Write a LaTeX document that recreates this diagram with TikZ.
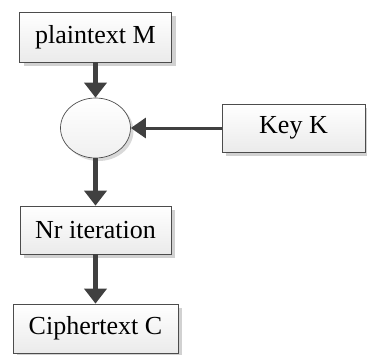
\documentclass[tikz,border=0pt]{standalone}
\usepackage{fontspec}
\setmainfont{Liberation Serif}
\usetikzlibrary{arrows.meta, shapes.geometric, shadows}

\tikzset{
  kasten/.style={draw=black!70, line width=0.7pt, inner sep=0pt,
    top color=white, bottom color=black!8,
    drop shadow={shadow xshift=4pt, shadow yshift=-4pt, fill=black!18, opacity=1},
    font=\fontsize{26}{26}\selectfont},
  kreis/.style={ellipse, draw=black!70, line width=0.7pt, inner sep=0pt,
    minimum width=70pt, minimum height=60pt,
    top color=white, bottom color=black!6,
    drop shadow={shadow xshift=3pt, shadow yshift=-3pt, fill=black!15, opacity=1}},
  pfeil/.style={-{Triangle[length=15pt, width=22pt]}, line width=5pt, draw=black!75},
  pfeilduenn/.style={-{Triangle[length=15pt, width=20pt]}, line width=3pt, draw=black!75}
}

\begin{document}
\begin{tikzpicture}[x=1pt, y=-1pt]
    \useasboundingbox (0,0) rectangle (367,354);

    % Kästen und Kreis
    \node[kasten, minimum width=152pt, minimum height=50pt] (plain) at (95.5,37) {plaintext M};
    \node[kreis] (xor) at (95.5,128) {};
    \node[kasten, minimum width=143pt, minimum height=48pt] (key) at (293.5,128) {Key K};
    \node[kasten, minimum width=151pt, minimum height=48pt] (iter) at (95.5,230) {Nr iteration};
    \node[kasten, minimum width=165pt, minimum height=49pt] (ciph) at (95.5,328.5) {Ciphertext C};

    % Pfeile
    \draw[pfeil] (plain) -- (xor);
    \draw[pfeilduenn] (key) -- (xor);
    \draw[pfeil] (xor) -- (iter);
    \draw[pfeil] (iter) -- (ciph);
\end{tikzpicture}
\end{document}
